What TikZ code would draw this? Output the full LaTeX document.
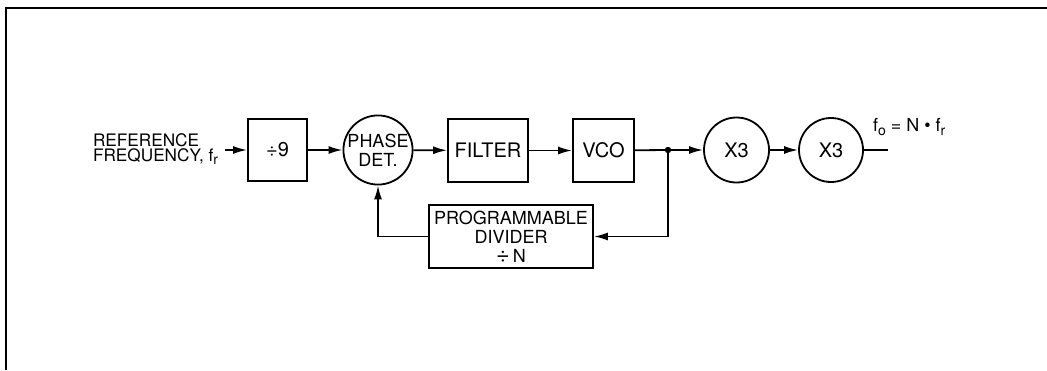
\documentclass[tikz,border=0pt]{standalone}
\usepackage{fontspec}
\setmainfont{TeX Gyre Heros}
\usetikzlibrary{arrows.meta,positioning}
\newcommand{\fsub}[1]{\raisebox{-0.35ex}{\fontsize{7}{7}\selectfont #1}}

\begin{document}
\begin{tikzpicture}[x=0.5pt,y=-0.5pt,
    >={Latex[length=7pt,width=4pt]},
    every node/.style={font=\fontsize{10}{11}\selectfont},
    block/.style={draw,line width=0.9pt,inner sep=0pt,align=center},
    mult/.style={draw,circle,line width=0.9pt,inner sep=0pt,minimum size=32.5pt,align=center},
    wire/.style={line width=0.9pt}]
  \useasboundingbox (0,0) rectangle (1047,370);
  \draw[line width=1pt] (6,370) -- (6,8) -- (1047,8);

  \node[anchor=west,align=left,font=\fontsize{8.6}{7.6}\selectfont] (ref) at (86,149)
    {REFERENCE\\FREQUENCY, f\fsub{r}};
  \coordinate (in) at (225,150);
  \node[block,minimum width=29.5pt,minimum height=31pt] (div9) at (277.5,150) {÷9};
  \node[mult,minimum size=33pt,font=\fontsize{9}{9.5}\selectfont] (pd) at (378,150) {PHASE\\DET.};
  \node[block,minimum width=40pt,minimum height=31.5pt] (filt) at (488,150.5) {FILTER};
  \node[block,minimum width=30.5pt,minimum height=31.5pt] (vco) at (603.5,150.5) {VCO};
  \coordinate (j) at (668,150);
  \node[mult] (x1) at (736.5,150) {X3};
  \node[mult,minimum size=32pt] (x2) at (831,150) {X3};
  \coordinate (out) at (888,150);
  \node[anchor=west,font=\fontsize{9}{10}\selectfont] (fo) at (866,127)
    {f\fsub{o} = N \textbullet\ f\fsub{r}};
  \node[block,minimum width=82pt,minimum height=31.5pt,font=\fontsize{9}{9.5}\selectfont]
    (prog) at (511,236.5)
    {PROGRAMMABLE\\DIVIDER\\\smash{\scalebox{1.3}{÷}}\,N};

  \path[wire,->]
  (in)   edge (div9)
  (div9) edge (pd)
  (pd)   edge (filt)
  (filt) edge (vco)
  (j)    edge (x1)
  (x1)   edge (x2)
  ;
  \draw[wire] (vco) -- (j);
  \draw[wire] (x2) -- (out);
  \fill (j) circle (1.6pt);
  \draw[wire,->] (j) |- (prog.east);
  \draw[wire,->] (prog.west) -| (pd.south);
\end{tikzpicture}
\end{document}
